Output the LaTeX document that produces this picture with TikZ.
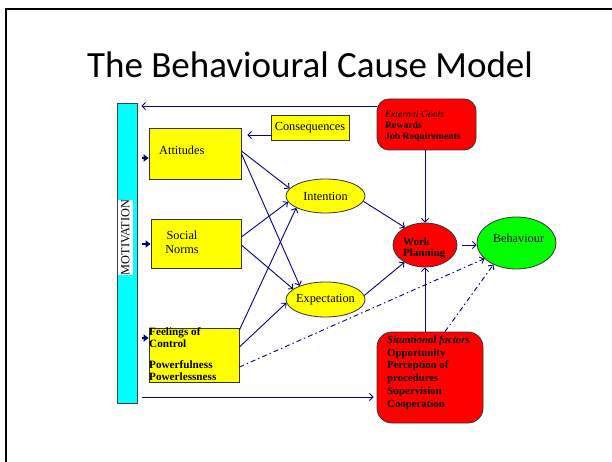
\documentclass[tikz,border=0pt]{standalone}
\usepackage{fontspec}
\setmainfont{Liberation Serif}
\newfontfamily\titlefont{Carlito}
\usetikzlibrary{arrows.meta,shapes.geometric}
\definecolor{arrowblue}{RGB}{0,0,128}
\definecolor{boxyellow}{RGB}{255,255,0}
\definecolor{barcyan}{RGB}{0,255,255}
\definecolor{goalred}{RGB}{255,0,0}
\definecolor{behgreen}{RGB}{0,255,0}
\newcommand{\txtfont}{\fontsize{12.3}{14}\selectfont}
\begin{document}
\begin{tikzpicture}[x=1pt,y=-1pt,
  ybox/.style={rectangle, draw=black!80, line width=0.8pt, fill=boxyellow, inner sep=0pt},
  rbox/.style={rectangle, draw=black!80, line width=0.8pt, fill=goalred, inner sep=0pt},
  ell/.style={ellipse, draw=black!80, line width=0.8pt, inner sep=0pt, font=\txtfont},
  arr/.style={draw=arrowblue, line width=0.9pt, -{Straight Barb[length=3.5pt,width=7pt]}},
  dd/.style={arr, dash pattern=on 5pt off 3pt on 1.5pt off 3pt},
  feeder/.style={draw=arrowblue, line width=1.8pt, -{Triangle[length=5pt,width=7pt]}}]
\useasboundingbox (0,0) rectangle (612,462);

% slide frame
\draw[line width=2.3pt] (6.2,470) -- (6.2,9.3) -- (620,9.3);

% title
\node[font=\titlefont\fontsize{37}{42}\selectfont, anchor=base] (title) at (310,78) {The Behavioural Cause Model};

% motivation bar
\node[rectangle, draw=black!75, line width=0.8pt, fill=barcyan, minimum width=20pt, minimum height=300pt, inner sep=0pt] (bar) at (127,253) {};
\node[fill=white, rotate=90, inner xsep=0pt, inner ysep=3pt, font=\fontsize{12.3}{14}\selectfont] (mot) at (125.5,237.5) {MOTIVATION};

% yellow boxes
\node[ybox, minimum width=92pt, minimum height=51pt] (att) at (195,153.5) {};
\node[anchor=base west, inner sep=0pt, font=\txtfont] (atttext) at (159,155) {Attitudes};
\node[ybox, minimum width=78pt, minimum height=25pt, font=\txtfont] (cons) at (310,127.5) {\makebox[0pt]{Consequences}};
\node[ybox, minimum width=90pt, minimum height=49pt] (soc) at (196,243.5) {};
\node[anchor=north, align=center, inner sep=0pt, font=\txtfont] (soctext) at (182,230.8) {Social\\Norms};
\node[ybox, minimum width=90pt, minimum height=54pt] (feel) at (194,355) {};
\node[anchor=north west, align=left, inner sep=0pt, font=\bfseries\fontsize{11.2}{12}\selectfont] (feeltext) at (149,327.8) {Feelings of\\Control\\[8.5pt]Powerfulness\\Powerlessness};

% ellipses
\node[ell, fill=boxyellow, minimum width=79pt, minimum height=34pt] (int) at (325.5,196) {\makebox[0pt]{Intention}};
\node[ell, fill=boxyellow, minimum width=79pt, minimum height=35pt] (exp) at (325.5,299.5) {\makebox[0pt]{Expectation}};
\node[ell, fill=goalred, minimum width=64pt, minimum height=44pt] (wp) at (425,245) {};
\node[anchor=north west, align=left, inner sep=0pt, font=\bfseries\fontsize{11}{11.5}\selectfont] (wptext) at (403,237.5) {Work\\Planning};
\node[ell, fill=behgreen, minimum width=79pt, minimum height=52pt] (beh) at (516.5,243) {};
\node[anchor=base, inner sep=0pt, font=\txtfont] (behtext) at (518.5,242.7) {Behaviour};

% red rounded boxes
\node[rbox, minimum width=99pt, minimum height=51pt, rounded corners=12pt] (ext) at (426.5,124.5) {};
\node[anchor=north west, align=left, inner sep=0pt, font=\fontsize{9.7}{11}\selectfont] (exttext) at (385,110.1) {\textit{External Goals}\\\textbf{Rewards}\\\textbf{Job Requirements}};
\node[rbox, minimum width=106pt, minimum height=91pt, rounded corners=15pt] (sit) at (430,377.5) {};
\node[anchor=north west, align=left, inner sep=0pt, font=\bfseries\fontsize{10.8}{12.9}\selectfont] (sittext) at (387,335.3) {\textit{Situational factors}\\Opportunity\\Perception of\\procedures\\Supervision\\Cooperation};

% feeders from the motivation bar
\coordinate (attin) at ([yshift=-4.5pt]att.west);
\coordinate (socin) at ([yshift=-0.5pt]soc.west);
\coordinate (feelin) at ([yshift=17pt]feel.west);
\draw[feeder, shorten <=5pt] (attin -| bar.east) -- (attin);
\draw[feeder, shorten <=5pt] (socin -| bar.east) -- (socin);
\draw[feeder, shorten <=5pt] (feelin -| bar.east) -- (feelin);

% influences
\draw[arr] ([yshift=2.5pt]att.east) -- (int.168);
\draw[arr] (att.east) -- (exp.152);
\draw[arr] ([yshift=6.5pt]soc.east) -- (int.189);
\draw[arr] ([yshift=-1.5pt]soc.east) -- (exp.162);
\draw[arr] ([yshift=25pt]feel.east) -- (int.202);
\draw[arr] ([yshift=8pt]feel.east) -- (exp.185);
\draw[dd] ([yshift=-12pt]feel.east) -- (beh.206);
\draw[arr] (int.352) -- (wp.139);
\draw[arr] (exp.6) -- (wp.220);
\draw[arr] (wp.north |- ext.south) -- (wp.north);
\draw[arr] (wp.south |- sit.north) -- (wp.south);
\draw[arr, shorten <=5pt] (wp.east) -- (wp.east -| beh.west);
\draw[dd] ([xshift=15pt]sit.north) -- (beh.223);

\coordinate (consfoot) at ([yshift=-7.5pt]cons.west);
\draw[arr, shorten >=6pt] (consfoot) -- (consfoot -| att.east);
\coordinate (extfoot) at ([yshift=18.5pt]ext.west);
\draw[arr, shorten >=4pt] (extfoot) -- (extfoot -| bar.east);
\coordinate (barfoot) at ([yshift=-144pt]bar.east);
\draw[arr, shorten <=5pt, shorten >=3pt] (barfoot) -- (barfoot -| sit.west);
\end{tikzpicture}
\end{document}
